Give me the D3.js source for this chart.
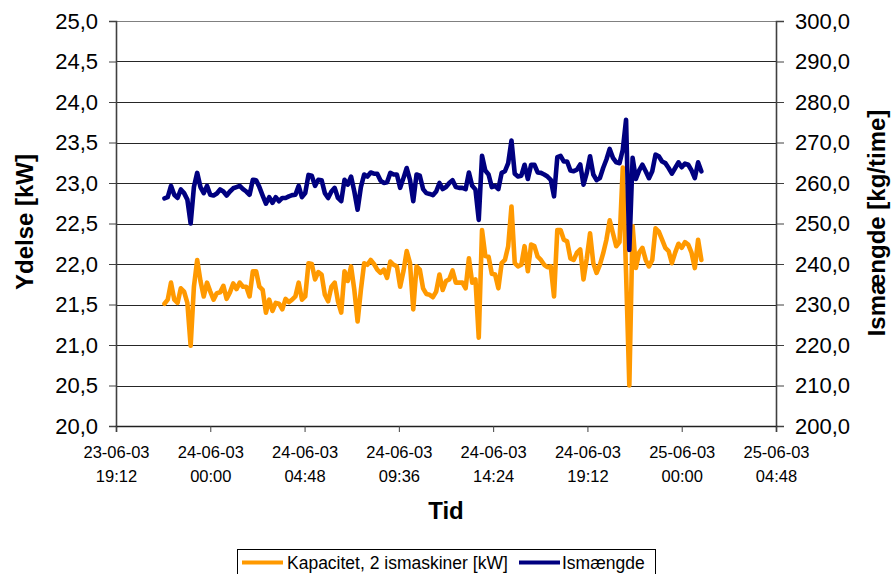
<!DOCTYPE html>
<html>
<head>
<meta charset="utf-8">
<script src="https://cdn.jsdelivr.net/npm/d3@7/dist/d3.min.js"></script>
<style>
  html, body { margin: 0; padding: 0; background: #fff; }
  svg { display: block; font-family: "Liberation Sans", Arial, sans-serif; }
</style>
</head>
<body>
<svg id="chart" width="896" height="574"></svg>
<script>
// ---------------- DATA ----------------
const times = [
  "23-06-03 21:40","23-06-03 21:50","23-06-03 22:00","23-06-03 22:10","23-06-03 22:20","23-06-03 22:30",
  "23-06-03 22:40","23-06-03 22:50","23-06-03 23:00","23-06-03 23:10","23-06-03 23:20","23-06-03 23:30",
  "23-06-03 23:40","23-06-03 23:50",
  "24-06-03 00:00","24-06-03 00:10","24-06-03 00:20","24-06-03 00:30","24-06-03 00:40","24-06-03 00:50",
  "24-06-03 01:00","24-06-03 01:10","24-06-03 01:20","24-06-03 01:30","24-06-03 01:40","24-06-03 01:50",
  "24-06-03 02:00","24-06-03 02:10","24-06-03 02:20","24-06-03 02:30","24-06-03 02:40","24-06-03 02:50",
  "24-06-03 03:00","24-06-03 03:10","24-06-03 03:20","24-06-03 03:30","24-06-03 03:40","24-06-03 03:50",
  "24-06-03 04:00","24-06-03 04:10","24-06-03 04:20","24-06-03 04:30","24-06-03 04:40","24-06-03 04:50",
  "24-06-03 05:00","24-06-03 05:10","24-06-03 05:20","24-06-03 05:30","24-06-03 05:40","24-06-03 05:50",
  "24-06-03 06:00","24-06-03 06:10","24-06-03 06:20","24-06-03 06:30","24-06-03 06:40","24-06-03 06:50",
  "24-06-03 07:00","24-06-03 07:10","24-06-03 07:20","24-06-03 07:30","24-06-03 07:40","24-06-03 07:50",
  "24-06-03 08:00","24-06-03 08:10","24-06-03 08:20","24-06-03 08:30","24-06-03 08:40","24-06-03 08:50",
  "24-06-03 09:00","24-06-03 09:10","24-06-03 09:20","24-06-03 09:30","24-06-03 09:40","24-06-03 09:50",
  "24-06-03 10:00","24-06-03 10:10","24-06-03 10:20","24-06-03 10:30","24-06-03 10:40","24-06-03 10:50",
  "24-06-03 11:00","24-06-03 11:10","24-06-03 11:20","24-06-03 11:30","24-06-03 11:40","24-06-03 11:50",
  "24-06-03 12:00","24-06-03 12:10","24-06-03 12:20","24-06-03 12:30","24-06-03 12:40","24-06-03 12:50",
  "24-06-03 13:00","24-06-03 13:10","24-06-03 13:20","24-06-03 13:30","24-06-03 13:40","24-06-03 13:50",
  "24-06-03 14:00","24-06-03 14:10","24-06-03 14:20","24-06-03 14:30","24-06-03 14:40","24-06-03 14:50",
  "24-06-03 15:00","24-06-03 15:10","24-06-03 15:20","24-06-03 15:30","24-06-03 15:40","24-06-03 15:50",
  "24-06-03 16:00","24-06-03 16:10","24-06-03 16:20","24-06-03 16:30","24-06-03 16:40","24-06-03 16:50",
  "24-06-03 17:00","24-06-03 17:10","24-06-03 17:20","24-06-03 17:30","24-06-03 17:40","24-06-03 17:50",
  "24-06-03 18:00","24-06-03 18:10","24-06-03 18:20","24-06-03 18:30","24-06-03 18:40","24-06-03 18:50",
  "24-06-03 19:00","24-06-03 19:10","24-06-03 19:20","24-06-03 19:30","24-06-03 19:40","24-06-03 19:50",
  "24-06-03 20:00","24-06-03 20:10","24-06-03 20:20","24-06-03 20:30","24-06-03 20:40","24-06-03 20:50",
  "24-06-03 21:00","24-06-03 21:10","24-06-03 21:20","24-06-03 21:30","24-06-03 21:40","24-06-03 21:50",
  "24-06-03 22:00","24-06-03 22:10","24-06-03 22:20","24-06-03 22:30","24-06-03 22:40","24-06-03 22:50",
  "24-06-03 23:00","24-06-03 23:10","24-06-03 23:20","24-06-03 23:30","24-06-03 23:40","24-06-03 23:50",
  "25-06-03 00:00","25-06-03 00:10","25-06-03 00:20","25-06-03 00:30","25-06-03 00:40","25-06-03 00:50",
  "25-06-03 01:00"
];

// Kapacitet, 2 ismaskiner [kW]  (left axis)
const kapacitet = [
  21.51,21.56,21.77,21.56,21.52,21.70,21.66,21.52,20.99,21.72,22.05,21.79,21.60,21.77,
  21.66,21.56,21.64,21.65,21.73,21.57,21.65,21.76,21.69,21.77,21.72,21.72,21.60,21.91,
  21.91,21.72,21.68,21.40,21.56,21.42,21.52,21.51,21.44,21.57,21.53,21.56,21.60,21.77,
  21.56,21.60,22.01,22.00,21.81,21.90,21.87,21.62,21.54,21.72,21.77,21.54,21.40,21.91,
  21.79,21.97,21.68,21.29,21.68,22.01,21.99,22.05,22.00,21.93,21.89,21.93,21.83,22.03,
  21.99,21.97,21.72,21.91,22.16,22.01,21.44,21.97,21.93,21.70,21.63,21.62,21.59,21.66,
  21.87,21.68,21.79,21.81,21.92,21.77,21.77,21.77,21.70,22.07,21.77,21.81,21.09,22.42,
  22.10,22.09,21.88,21.87,21.70,22.01,22.05,22.22,22.71,22.01,21.97,21.99,22.22,21.91,
  22.24,22.22,22.09,22.05,21.99,21.96,21.97,21.60,22.42,22.42,22.30,22.28,22.07,22.05,
  22.14,22.18,21.81,22.07,22.38,22.01,21.89,21.99,22.13,22.30,22.54,22.38,22.22,22.27,
  23.19,21.89,20.50,22.47,21.95,22.14,22.20,22.05,21.97,22.05,22.44,22.40,22.30,22.20,
  22.16,22.01,22.14,22.25,22.20,22.27,22.24,22.14,21.95,22.30,22.05
];

// Ismængde [kg/time]  (right axis)
const ismaengde = [
  256.2,256.5,259.3,257.1,256.3,258.4,257.5,255.9,250.0,259.0,262.5,259.0,257.5,259.3,
  257.1,256.9,257.4,258.4,257.9,256.9,257.9,258.7,259.0,259.3,258.5,257.9,257.1,260.8,
  260.7,259.0,256.9,254.9,256.5,255.1,256.5,255.5,256.3,256.3,256.7,257.0,257.1,259.3,
  256.5,257.5,262.0,261.8,259.3,260.8,260.7,257.5,256.3,257.9,258.8,256.3,255.5,260.8,
  259.6,261.6,257.9,253.4,259.0,262.1,261.6,262.6,262.3,262.3,260.6,260.0,260.2,262.5,
  262.1,262.1,258.8,261.2,263.7,260.8,255.5,262.1,261.8,258.5,257.5,257.3,257.0,257.9,
  260.0,258.5,259.0,260.0,260.7,259.0,258.8,258.8,258.5,262.6,259.3,258.4,250.9,266.7,
  263.1,262.1,259.0,259.3,258.5,262.5,262.9,264.9,270.5,262.3,261.6,261.8,264.5,261.0,
  264.5,264.5,262.6,262.5,262.1,261.6,260.8,256.7,266.4,266.7,265.3,265.3,263.1,262.9,
  263.3,264.6,259.6,262.5,266.6,262.1,260.7,261.2,263.7,265.8,268.4,266.2,265.1,264.9,
  268.2,275.6,243.5,266.2,261.0,263.1,264.5,262.9,261.2,262.9,267.0,266.6,265.3,264.9,
  263.7,262.3,263.7,265.1,263.9,264.8,264.5,263.1,261.2,265.1,262.9
];

const xTickLabels = [
  "23-06-03 19:12","24-06-03 00:00","24-06-03 04:48","24-06-03 09:36",
  "24-06-03 14:24","24-06-03 19:12","25-06-03 00:00","25-06-03 04:48"
];
const leftTicks = [20.0,20.5,21.0,21.5,22.0,22.5,23.0,23.5,24.0,24.5,25.0];
const rightTicks = [200,210,220,230,240,250,260,270,280,290,300];

const seriesNames = ["Kapacitet, 2 ismaskiner [kW]", "Ismængde"];
const seriesColors = ["#FF9900", "#000080"];
const yLeftTitle = "Ydelse [kW]";
const yRightTitle = "Ismængde [kg/time]";
const xTitle = "Tid";

// ---------------- CHART ----------------
const parse = d3.timeParse("%d-%m-%y %H:%M");
const svg = d3.select("#chart");

const plot = { left: 116, right: 776, top: 21, bottom: 426 };

const x = d3.scaleTime()
  .domain([parse(xTickLabels[0]), parse(xTickLabels[xTickLabels.length - 1])])
  .range([plot.left, plot.right]);
const yL = d3.scaleLinear().domain([20, 25]).range([plot.bottom, plot.top]);
const yR = d3.scaleLinear().domain([200, 300]).range([plot.bottom, plot.top]);

const locale = d3.formatLocale({ decimal: ",", thousands: ".", grouping: [3], currency: ["", " kr"] });
const fmt1 = locale.format(".1f");

// gridlines
svg.append("g")
  .selectAll("line")
  .data(leftTicks)
  .join("line")
  .attr("x1", plot.left).attr("x2", plot.right)
  .attr("y1", d => Math.round(yL(d)) + 0.5).attr("y2", d => Math.round(yL(d)) + 0.5)
  .attr("stroke", d => d === 25 ? "#808080" : "#262626")
  .attr("stroke-width", 1);

// left axis
const gL = svg.append("g")
  .attr("transform", `translate(${plot.left},0)`)
  .call(d3.axisLeft(yL).tickValues(leftTicks).tickFormat(fmt1).tickSize(7).tickPadding(11));
gL.select(".domain").attr("stroke", "#404040").attr("stroke-width", 1.6);
gL.selectAll(".tick line").attr("stroke", "#404040");
gL.selectAll("text").attr("font-size", 22).attr("fill", "#000")
  .attr("font-family", "Liberation Sans, Arial, sans-serif");

// right axis
const gR = svg.append("g")
  .attr("transform", `translate(${plot.right},0)`)
  .call(d3.axisRight(yR).tickValues(rightTicks).tickFormat(fmt1).tickSize(8).tickPadding(11));
gR.select(".domain").attr("stroke", "#404040").attr("stroke-width", 1.6);
gR.selectAll(".tick line").attr("stroke", "#404040");
gR.selectAll("text").attr("font-size", 22).attr("fill", "#000")
  .attr("font-family", "Liberation Sans, Arial, sans-serif");

// x axis
const gX = svg.append("g")
  .attr("transform", `translate(0,${plot.bottom})`)
  .call(d3.axisBottom(x).tickValues(xTickLabels.map(parse)).tickSize(6).tickFormat(""));
gX.select(".domain").attr("stroke", "#202020").attr("stroke-width", 1.6);
gX.selectAll(".tick line").attr("stroke", "#404040");
const fmtDate = d3.timeFormat("%d-%m-%y");
const fmtTime = d3.timeFormat("%H:%M");
gX.selectAll(".tick").each(function(d) {
  const t = d3.select(this).append("text")
    .attr("fill", "#000").attr("font-size", 16.5)
    .attr("font-family", "Liberation Sans, Arial, sans-serif")
    .attr("text-anchor", "middle");
  t.append("tspan").attr("x", 0).attr("y", 32).text(fmtDate(d));
  t.append("tspan").attr("x", 0).attr("y", 56).text(fmtTime(d));
});

// series
const pts = times.map(parse);
const lineL = d3.line().x((d, i) => x(pts[i])).y(d => yL(d));
const lineR = d3.line().x((d, i) => x(pts[i])).y(d => yR(d));

svg.append("path").datum(kapacitet)
  .attr("d", lineL).attr("fill", "none")
  .attr("stroke", seriesColors[0]).attr("stroke-width", 4.6)
  .attr("stroke-linejoin", "round").attr("stroke-linecap", "round");
svg.append("path").datum(ismaengde)
  .attr("d", lineR).attr("fill", "none")
  .attr("stroke", seriesColors[1]).attr("stroke-width", 4.6)
  .attr("stroke-linejoin", "round").attr("stroke-linecap", "round");

// titles
svg.append("text")
  .attr("transform", "translate(33,222) rotate(-90)")
  .attr("text-anchor", "middle").attr("font-weight", "bold").attr("font-size", 24)
  .text(yLeftTitle);
svg.append("text")
  .attr("transform", "translate(885,223) rotate(-90)")
  .attr("text-anchor", "middle").attr("font-weight", "bold").attr("font-size", 24)
  .text(yRightTitle);
svg.append("text")
  .attr("x", 446).attr("y", 519)
  .attr("text-anchor", "middle").attr("font-weight", "bold").attr("font-size", 24)
  .text(xTitle);

// legend
const lg = svg.append("g");
lg.append("rect")
  .attr("x", 237.5).attr("y", 549.5).attr("width", 418).attr("height", 34)
  .attr("fill", "#fff").attr("stroke", "#000").attr("stroke-width", 1);
const legendItems = [
  { x1: 242, x2: 283, tx: 287 },
  { x1: 519, x2: 560, tx: 562 }
];
legendItems.forEach((it, k) => {
  lg.append("line")
    .attr("x1", it.x1).attr("x2", it.x2).attr("y1", 562.5).attr("y2", 562.5)
    .attr("stroke", seriesColors[k]).attr("stroke-width", 4);
  lg.append("text")
    .attr("x", it.tx).attr("y", 569)
    .attr("font-size", 17.5).attr("fill", "#000")
    .text(seriesNames[k]);
});
</script>
</body>
</html>
